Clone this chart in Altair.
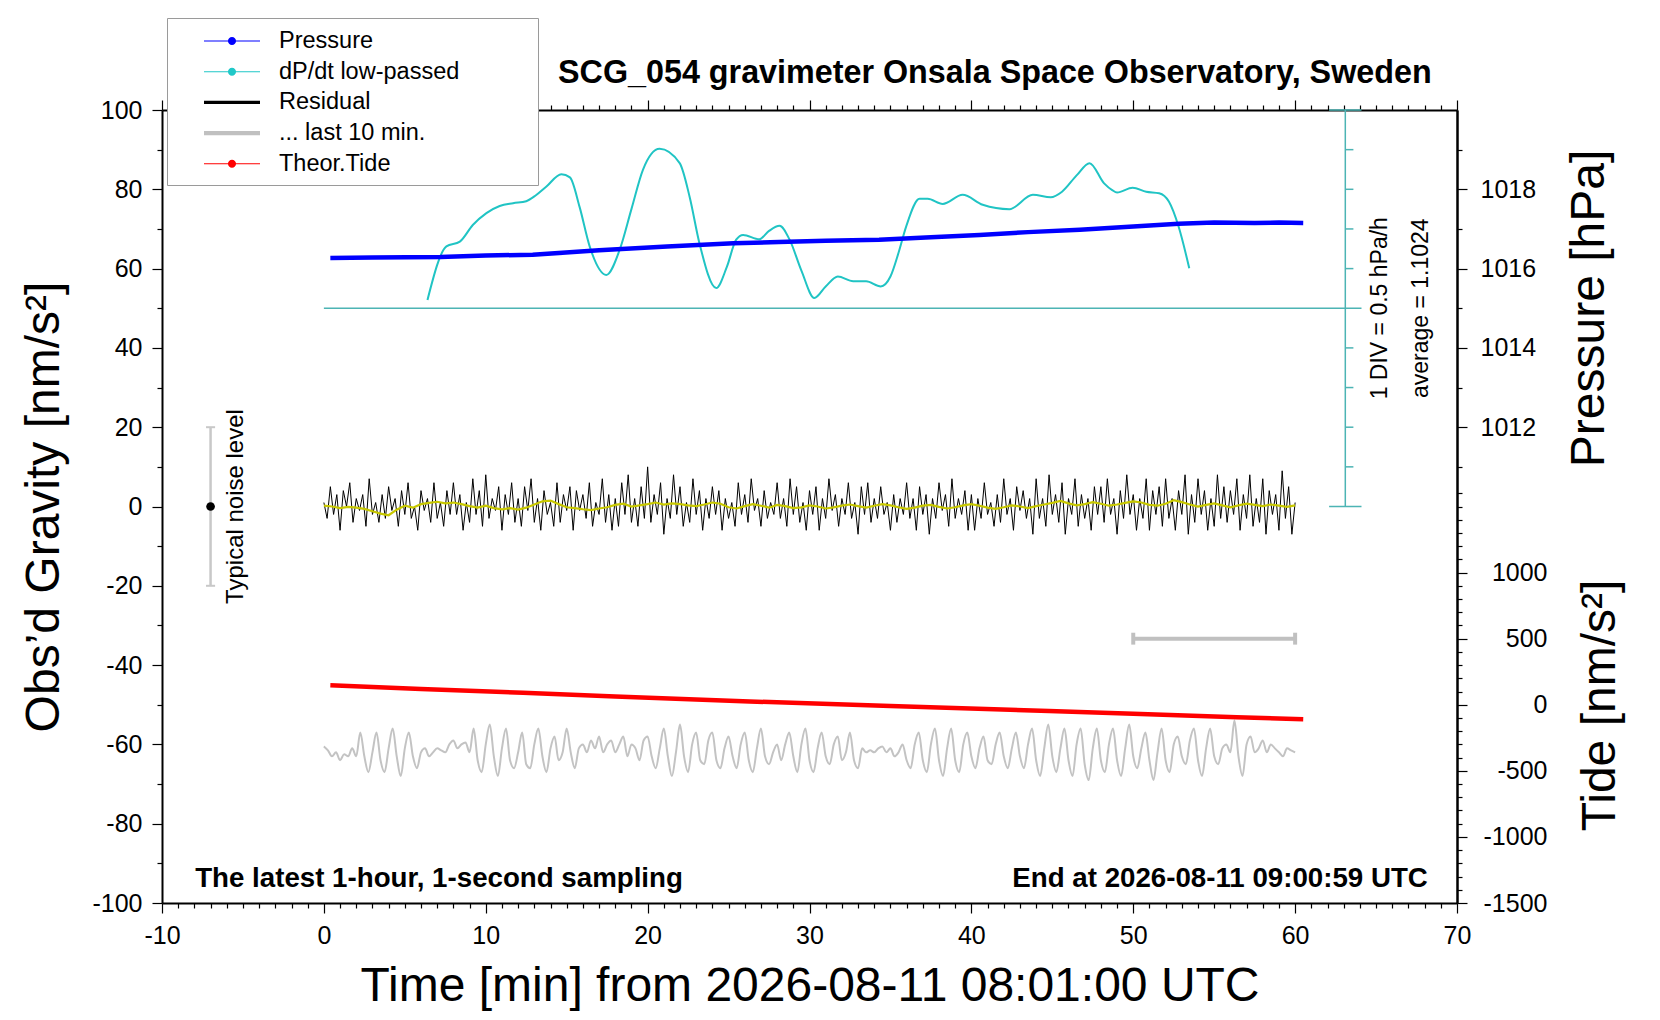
import altair as alt
import pandas as pd

FONT = "Liberation Sans, Arial, Helvetica, sans-serif"

# ---------------- values ----------------
pressure_min = [0.4, 3.0, 7.2, 10.0, 12.9, 17.0, 21.2, 25.3, 28.1, 31.0, 34.3,
                37.5, 40.5, 43.5, 46.7, 50.0, 52.8, 55.0, 57.5, 59.0, 60.5]
pressure_hpa = [1016.27, 1016.28, 1016.29, 1016.33, 1016.35, 1016.46, 1016.56,
                1016.64, 1016.67, 1016.70, 1016.73, 1016.79, 1016.85, 1016.92,
                1016.98, 1017.06, 1017.13, 1017.16, 1017.15, 1017.16, 1017.15]

tide_min = [0.4, 6.0, 12.3, 18.0, 26.3, 35.0, 44.8, 50.0, 56.4, 60.5]
tide_nms2 = [147, 120, 90, 62, 25, -10, -47, -68, -95, -110]

dpdt_min = [6.4, 7.57, 8.4, 9.2, 10.04, 10.86, 11.69, 12.5, 13.1, 13.75, 14.67,
            15.2, 15.8, 16.42, 17.45, 18.27, 19.0, 19.71, 20.74, 21.98, 22.6,
            23.2, 24.24, 24.9, 25.47, 25.9, 26.9, 27.5, 28.15, 28.77, 29.5,
            30.3, 31.0, 31.75, 32.7, 33.5, 34.4, 35.0, 35.5, 35.97, 36.8, 37.3,
            38.23, 39.46, 40.7, 42.35, 43.8, 44.9, 45.6, 46.5, 47.3, 48.2, 48.7,
            49.0, 49.96, 50.8, 51.6, 52.2, 52.8, 53.46]
dpdt_div = [52.1, 65.6, 66.8, 71.0, 74.0, 75.8, 76.5, 77.0, 78.5, 80.7, 83.8,
            83.0, 75.5, 65.6, 58.4, 64.7, 75.0, 84.9, 90.2, 86.6, 78.0,
            66.4, 55.1, 60.5, 67.3, 68.5, 67.4, 69.5, 70.8, 67.3, 59.5,
            52.6, 55.5, 58.0, 56.8, 56.8, 55.5, 58.0, 64.0, 70.6, 77.6, 77.6,
            76.3, 78.6, 76.1, 75.0, 78.6, 78.0, 79.4, 83.5, 86.6, 81.5, 79.8,
            79.2, 80.4, 79.4, 79.0, 76.9, 70.6, 60.1]

residual = [
    1, -3, 5, -2, 3, -6, 4, 0, 6, -4, 2, -1, 3, -5, 7, -2, 1, -4, 3, -3,
    5, -1, 2, -5, 4, -2, 6, -3, 0, -6, 4, -1, 2, -4, 6, -3, 1, -5, 4, -2,
    6, -2, 3, -6, 1, -4, 7, -2, 4, -5, 8, -3, 2, -1, 5, -6, 3, -2, 6, -4,
    2, -5, 5, -1, 7, -4, 2, -6, 4, -2, 1, -5, 6, -4, 3, -1, 5, -6, 4, -1,
    3, -3, 6, -5, 1, -2, 7, -4, 3, -6, 2, -5, 6, -2, 8, -4, 2, -5, 5, -3,
    10, -4, 3, -2, 6, -7, 2, -3, 8, -2, 5, -5, 1, -4, 7, -2, 4, -6, 2, -3,
    5, -2, 4, -6, 2, -3, 1, -5, 6, -2, 3, -4, 7, -1, 2, -5, 4, -3, 1, -2,
    6, -3, 2, -5, 7, -2, 5, -4, 1, -6, 4, -2, 5, -6, 2, -3, 7, -1, 3, -5,
    2, -2, 6, -3, 1, -7, 5, -2, 6, -4, 2, -3, 5, -2, 1, -6, 3, -4, 2, -2,
    6, -3, 2, -6, 5, -2, 3, -7, 2, -3, 6, -1, 3, -5, 7, -3, 2, -2, 4, -6,
    3, -6, 2, -3, 6, -2, 1, -5, 3, -4, 7, -2, 2, -6, 5, -1, 4, -3, 2, -7,
    7, -3, 2, -5, 8, -2, 3, -4, 6, -7, 2, -2, 7, -5, 3, -3, 2, -6, 5, -2,
    5, -4, 7, -2, 2, -7, 4, -3, 8, -2, 3, -6, 2, -3, 7, -6, 4, -2, 5, -5,
    7, -3, 2, -6, 4, -2, 8, -7, 3, -4, 7, -2, 4, -6, 2, -5, 8, -3, 5, -4,
    4, -2, 7, -6, 3, -3, 8, -5, 2, -4, 7, -7, 4, -2, 3, -6, 9, -3, 5, -7,
    1]

residual_smooth = [
    0.2, 0.0, -0.4, -0.1, -0.3, -0.6, -1.2, -1.8, -2.2, -0.8,
    0.2, -0.3, 0.6, 0.9, 1.2, 0.8, 1.0, 0.6, 0.1, -0.3,
    0.2, -0.4, -0.7, -0.4, -0.8, -0.3, 0.5, 1.3, 1.5, 0.6,
    -0.2, -0.4, -0.7, -0.9, -0.5, -0.2, 0.4, 0.7, 0.0, 0.3,
    0.6, 1.0, 0.5, 0.8, 0.6, 0.3, 0.1, 0.5, 1.0, 0.7,
    -0.2, -0.5, 0.1, 0.6, 0.2, -0.3, 0.4, 0.1, -0.4, -0.2,
    0.3, 0.0, -0.5, -0.2, 0.2, 0.5, 0.1, -0.3, 0.2, 0.6,
    0.3, -0.2, -0.6, -0.3, 0.2, 0.4, -0.1, -0.5, -0.2, 0.3,
    0.6, 0.2, -0.3, -0.6, -0.2, 0.3, 0.0, -0.4, 0.1, 0.5,
    0.9, 1.4, 0.8, 0.3, 0.6, 1.1, 0.7, 0.2, 0.5, 0.9,
    1.3, 1.0, 0.4, 0.2, 0.7, 1.6, 1.1, 0.5, 0.0, 0.4,
    0.8, 0.3, -0.2, 0.3, 0.7, 0.4, 0.1, 0.5, 0.2, -0.1,
    0.3]

last10 = [
    -60.5, -61.5, -63, -62, -64, -62.5, -63, -61, -63,
    -57, -63, -67, -62, -57, -64, -67, -61, -56, -63, -68, -61,
    -57, -63, -66, -62, -61, -63, -62, -61, -61.5, -62, -60, -59, -61, -60, -59.5, -62,
    -56, -64, -67, -60, -55, -63, -68, -61, -56, -64, -66, -62,
    -57, -65, -66, -60, -56, -63, -67, -61, -58, -64, -62, -56,
    -62, -66, -61, -60, -62, -59, -61, -58, -62, -60, -59, -62,
    -60, -58, -63, -60, -61, -64, -59, -58, -63, -66, -61, -56,
    -63, -68, -62, -55, -63, -67, -60, -57, -64, -65, -59, -57,
    -64, -66, -61, -58, -63, -66, -60, -57, -64, -67, -61, -56,
    -63, -65, -62, -60, -64, -60, -57, -63, -67, -60, -56, -64,
    -67, -61, -57, -63, -65, -60, -58, -64, -62, -57, -64, -66,
    -61, -62, -61.5, -62, -61, -60.5, -62, -61, -63, -62, -60, -64,
    -66, -60, -57, -64, -67, -60, -56, -64, -68, -61, -56, -64,
    -67, -60, -57, -63, -66, -61, -58, -64, -65, -60, -57, -63,
    -66, -61, -57, -63, -66, -60, -56, -64, -68, -61, -55, -63,
    -67, -61, -56, -64, -68, -60, -56, -65, -69, -61, -56, -64,
    -67, -60, -56, -64, -68, -61, -55, -63, -66, -61, -57, -64,
    -69, -62, -56, -64, -67, -60, -58, -63, -65, -59, -56, -64,
    -68, -61, -56, -63, -65, -61, -60, -62, -54, -63, -68, -60,
    -58, -62, -61, -59, -62, -60, -61, -62, -63, -61, -61.5, -62]

legend_names = ["Pressure", "dP/dt low-passed", "Residual", "... last 10 min.", "Theor.Tide"]
legend_colors = ["#0000ff", "#20c8c8", "#000000", "#c0c0c0", "#ff0000"]

x_tick_values = list(range(-10, 71))
g_tick_values = list(range(-100, 101, 10))
p_tick_values = list(range(1011, 1020))
tide_tick_values = list(range(-1500, 1601, 100))

# reference marks (data units)
noise_x, noise_half = -7.0, 20.0
cyan_axis_x, cyan_mid = 63.1, 50.0
tenmin_start, tenmin_end, tenmin_level = 50.0, 60.0, 500.0

# ---------------- tables ----------------
def grid(n):
    return [60.0 * i / (n - 1) for i in range(n)]

df_res = pd.DataFrame({"t": grid(len(residual)), "g": residual})
df_smooth = pd.DataFrame({"t": grid(len(residual_smooth)), "g": residual_smooth})
df_last = pd.DataFrame({"t": grid(len(last10)), "g": last10})
df_dpdt = pd.DataFrame({"t": dpdt_min, "g": dpdt_div})
df_p = pd.DataFrame({"t": pressure_min, "p": pressure_hpa})
df_tide = pd.DataFrame({"t": tide_min, "tide": tide_nms2})
df_leg = pd.DataFrame({"name": legend_names})
one = pd.DataFrame({"k": [0]})

cy_x, cy_x2, cy_y, cy_y2 = [], [], [], []
cy_x += [cyan_axis_x, 0.0, cyan_axis_x - 1, cyan_axis_x - 1]
cy_x2 += [cyan_axis_x, cyan_axis_x + 1, cyan_axis_x + 1, cyan_axis_x + 1]
cy_y += [0.0, cyan_mid, 0.0, 100.0]
cy_y2 += [100.0, cyan_mid, 0.0, 100.0]
for v in range(10, 100, 10):
    if v != 50:
        cy_x.append(cyan_axis_x); cy_x2.append(cyan_axis_x + 0.5)
        cy_y.append(float(v)); cy_y2.append(float(v))
df_cyan = pd.DataFrame({"x": cy_x, "x2": cy_x2, "y": cy_y, "y2": cy_y2})

# ---------------- scales & axes ----------------
XSC = alt.Scale(domain=[-10, 70], nice=False, zero=False)
GSC = alt.Scale(domain=[-100, 100], nice=False, zero=False)
PSC = alt.Scale(domain=[1000, 1020], nice=False, zero=False)
TSC = alt.Scale(domain=[-1500, 4500], nice=False, zero=False)


def tsize(test):
    return {"condition": {"test": test, "value": 10}, "value": 5}


XAX = alt.Axis(orient="bottom", values=x_tick_values,
               labelExpr="datum.value % 10 === 0 ? '' + datum.value : ''",
               tickSize=tsize("datum.value % 10 === 0"), labelPadding=10,
               title="Time [min] from 2026-08-11 08:01:00 UTC",
               titleBaseline="alphabetic", titleY=97, titleX=647.5, titleAlign="center")
XTOP = alt.Axis(orient="top", values=x_tick_values, labels=False,
                tickSize=tsize("datum.value % 10 === 0"), title=None)
GAX = alt.Axis(orient="left", values=g_tick_values,
               labelExpr="datum.value % 20 === 0 ? '' + datum.value : ''",
               tickSize=tsize("datum.value % 20 === 0"), labelPadding=10,
               title="Obs\u2019d Gravity [nm/s\u00b2]", titleAngle=270,
               titleBaseline="alphabetic", titleAlign="center", titleX=-104, titleY=396.5)
PAX = alt.Axis(orient="right", values=p_tick_values,
               labelExpr="datum.value % 2 === 0 ? '' + datum.value : ''",
               tickSize=tsize("datum.value % 2 === 0"), labelPadding=13,
               title="Pressure [hPa]", titleAngle=270, titleBaseline="alphabetic",
               titleAlign="center", titleX=146, titleY=198)
TAX = alt.Axis(orient="right", values=tide_tick_values,
               labelExpr="(datum.value % 500 === 0 && datum.value <= 1000) ? '' + datum.value : ''",
               tickSize=tsize("datum.value % 500 === 0 && datum.value <= 1000"),
               labelAlign="right", labelPadding=80,
               title="Tide [nm/s\u00b2]", titleAngle=270, titleBaseline="alphabetic",
               titleAlign="center", titleX=157, titleY=595)


def gx(**kw):
    return alt.X(scale=XSC, axis=XAX, **kw)


def gy(**kw):
    return alt.Y(scale=GSC, axis=GAX, **kw)


LEG = alt.Legend(orient="none", legendX=5, legendY=-92, direction="vertical",
                 title="\u00a0", titleOrient="right", titlePadding=70, titleFontSize=11,
                 padding=9, fillColor="white", strokeColor="#9a9a9a",
                 labelFont=FONT, labelFontSize=23.5, labelColor="black", labelLimit=0,
                 symbolSize=784, symbolStrokeWidth=0, symbolOpacity=1,
                 symbolOffset=42, labelOffset=33, rowPadding=4.7)

dot_line = "M-2,-0.04H2V0.04H-2Z M0.29,0 A0.29,0.29 0 1,1 -0.29,0 A0.29,0.29 0 1,1 0.29,0 Z"
legend_shapes = [dot_line, dot_line, "M-2,-0.12H2V0.12H-2Z", "M-2,-0.15H2V0.15H-2Z", dot_line]

# ---------------- gravity layer ----------------
gray_wave = alt.Chart(df_last).mark_line(color="#c3c3c3", strokeWidth=2, interpolate="monotone").encode(
    x=gx(field="t", type="quantitative"), y=gy(field="g", type="quantitative"))

cyan_bar = alt.Chart(df_cyan).mark_rule(color="#4cb4b4", strokeWidth=1.5).encode(
    x=gx(field="x", type="quantitative"), x2=alt.X2("x2:Q"),
    y=gy(field="y", type="quantitative"), y2=alt.Y2("y2:Q"))

cyan_curve = alt.Chart(df_dpdt).mark_line(color="#20c4c4", strokeWidth=2, interpolate="monotone").encode(
    x=gx(field="t", type="quantitative"), y=gy(field="g", type="quantitative"))

def note(text, x, y, size, angle=0, align="center", baseline="alphabetic", weight="normal"):
    return alt.Chart(one).mark_text(text=text, font=FONT, fontSize=size, angle=angle, align=align,
                                    baseline=baseline, fontWeight=weight, color="black").encode(
        x=gx(datum=x), y=gy(datum=y))

noise_line = alt.Chart(one).mark_rule(color="#c8c8c8", strokeWidth=2.5).encode(
    x=gx(datum=noise_x), y=gy(datum=-noise_half), y2=alt.datum(noise_half))
noise_caps = alt.layer(*[
    alt.Chart(one).mark_rule(color="#c8c8c8", strokeWidth=2).encode(
        x=gx(datum=noise_x - 0.28), x2=alt.datum(noise_x + 0.28), y=gy(datum=v))
    for v in (-noise_half, noise_half)])
noise_dot = alt.Chart(one).mark_circle(color="black", size=75, opacity=1).encode(
    x=gx(datum=noise_x), y=gy(datum=0))

resid_line = alt.Chart(df_res).mark_line(color="black", strokeWidth=1).encode(
    x=gx(field="t", type="quantitative"), y=gy(field="g", type="quantitative"))
smooth_line = alt.Chart(df_smooth).mark_line(color="#c8c800", strokeWidth=2.2).encode(
    x=gx(field="t", type="quantitative"), y=gy(field="g", type="quantitative"))

legend_dummy = alt.Chart(df_leg).mark_point(filled=True, opacity=0).encode(
    color=alt.Color("name:N", scale=alt.Scale(domain=legend_names, range=legend_colors), legend=LEG),
    shape=alt.Shape("name:N", scale=alt.Scale(domain=legend_names, range=legend_shapes), legend=LEG))

G = alt.layer(
    gray_wave, cyan_bar, cyan_curve,
    note("1 DIV = 0.5 hPa/h", 65.66, 50, 23, angle=270),
    note("average = 1.1024", 68.2, 50, 23, angle=270),
    noise_line, noise_caps, noise_dot,
    note("Typical noise level", -5.0, 0, 24, angle=270),
    resid_line, smooth_line,
    note("The latest 1-hour, 1-second sampling", -7.95, -96, 27.7, align="left", weight="bold"),
    note("End at 2026-08-11 09:00:59 UTC", 68.2, -96, 27.7, align="right", weight="bold"),
    note("SCG_054 gravimeter Onsala Space Observatory, Sweden", 41.45, 106.9, 32.3, weight="bold"),
    legend_dummy,
)

# ---------------- pressure layer ----------------
P = alt.Chart(df_p).mark_line(color="#0000ff", strokeWidth=4.5).encode(
    x=alt.X("t:Q", scale=XSC, axis=XTOP),
    y=alt.Y("p:Q", scale=PSC, axis=PAX))

# ---------------- tide layer ----------------
tide_line = alt.Chart(df_tide).mark_line(color="#ff0000", strokeWidth=4.5).encode(
    x=alt.X("t:Q", scale=XSC, axis=None),
    y=alt.Y("tide:Q", scale=TSC, axis=TAX))
tenmin = alt.Chart(one).mark_rule(color="#c0c0c0", strokeWidth=4).encode(
    x=alt.X(datum=tenmin_start, scale=XSC, axis=None), x2=alt.datum(tenmin_end),
    y=alt.Y(datum=tenmin_level, scale=TSC, axis=TAX))
tenmin_caps = alt.layer(*[
    alt.Chart(one).mark_rule(color="#c0c0c0", strokeWidth=4).encode(
        x=alt.X(datum=v, scale=XSC, axis=None),
        y=alt.Y(datum=tenmin_level - 45, scale=TSC, axis=TAX), y2=alt.datum(tenmin_level + 45))
    for v in (tenmin_start, tenmin_end)])
T = alt.layer(tide_line, tenmin, tenmin_caps)

chart = alt.layer(G, P, T).resolve_scale(x="independent", y="independent").properties(
    width=1295, height=793,
    padding={"left": 154, "top": 102, "right": 195, "bottom": 109},
    autosize=alt.AutoSizeParams(type="none"),
).configure_view(stroke=None).configure_axis(
    labelFont=FONT, labelFontSize=25, labelColor="black",
    titleFont=FONT, titleFontSize=48, titleFontWeight="normal", titleColor="black",
    domainColor="black", domainWidth=2, tickColor="black", tickWidth=1.2,
    grid=False, labelOverlap=False, labelFlush=False,
)

chart.save("out.html", embed_options={"renderer": "svg", "actions": False})
